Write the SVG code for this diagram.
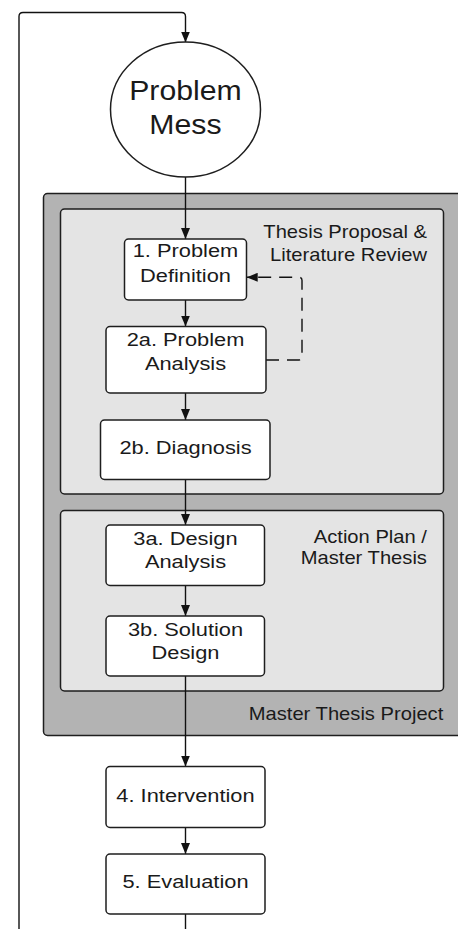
<svg xmlns="http://www.w3.org/2000/svg" width="458" height="929" viewBox="0 0 458 929">
  <style>
    .node { fill: #ffffff; stroke: #1e1e1e; stroke-width: 1.5; }
    .panel { fill: #e4e4e4; stroke: #1e1e1e; stroke-width: 1.5; }
    .frame { fill: #b3b3b3; stroke: #1e1e1e; stroke-width: 1.5; }
    .edge { fill: none; stroke: #111111; stroke-width: 1.4; }
    .dash { stroke-dasharray: 13 8; }
    text { font-family: "Liberation Sans", Arial, sans-serif; fill: #1a1a1a; }
    /* node labels: x values are divided by the 1.18 horizontal scale */
    .lbl { font-size: 18.5px; text-anchor: middle; transform: scaleX(1.18); }
    /* big circle label and captions: x values divided by 1.12 */
    .big { font-size: 27px; text-anchor: middle; transform: scaleX(1.12); }
    .cap { font-size: 18px; text-anchor: end; transform: scaleX(1.12); }
  </style>
  <defs>
    <marker id="arrow" viewBox="0 0 11 9" refX="11" refY="4.5" markerWidth="11" markerHeight="9" markerUnits="userSpaceOnUse" orient="auto">
      <path d="M0,0 L11,4.5 L0,9 z" fill="#111111"/>
    </marker>
  </defs>

  <rect width="458" height="929" fill="#ffffff"/>

  <!-- containers -->
  <g id="master-thesis-project">
    <rect class="frame" x="43.5" y="193.5" width="420" height="542" rx="4"/>
    <text class="cap" x="395.8" y="720">Master Thesis Project</text>
  </g>
  <g id="thesis-proposal">
    <rect class="panel" x="60.5" y="209" width="383" height="285" rx="4"/>
    <text class="cap" x="381.2" y="238.3">Thesis Proposal &amp;</text>
    <text class="cap" x="381.2" y="260.7">Literature Review</text>
  </g>
  <g id="action-plan">
    <rect class="panel" x="60.5" y="510.5" width="383" height="180.5" rx="4"/>
    <text class="cap" x="381.2" y="543.3">Action Plan /</text>
    <text class="cap" x="381.2" y="564.5">Master Thesis</text>
  </g>

  <!-- connectors -->
  <g id="connectors">
    <path class="edge" d="M19,935 V16.5 Q19,12.5 23,12.5 H181.5 Q185.5,12.5 185.5,16.5 V42.5" marker-end="url(#arrow)"/>
    <path class="edge" d="M185.5,177 V239" marker-end="url(#arrow)"/>
    <path class="edge" d="M185.5,300 V326.5" marker-end="url(#arrow)"/>
    <path class="edge" d="M185.5,393 V420" marker-end="url(#arrow)"/>
    <path class="edge" d="M185.5,479.5 V525" marker-end="url(#arrow)"/>
    <path class="edge" d="M185.5,585.5 V616" marker-end="url(#arrow)"/>
    <path class="edge" d="M185.5,676 V766.5" marker-end="url(#arrow)"/>
    <path class="edge" d="M185.5,827.5 V854" marker-end="url(#arrow)"/>
    <path class="edge" d="M185.5,914 V935"/>
    <path class="edge dash" d="M266,360 H299 Q302,360 302,357 V280.3 Q302,277.3 299,277.3 H246.7" marker-end="url(#arrow)"/>
  </g>

  <!-- process nodes -->
  <g id="problem-mess">
    <ellipse class="node" cx="185.5" cy="109.5" rx="75" ry="67.5"/>
    <text class="big" x="165.6" y="100.5">Problem</text>
    <text class="big" x="165.6" y="134.5">Mess</text>
  </g>
  <g id="problem-definition">
    <rect class="node" x="124.5" y="239" width="122" height="61" rx="4"/>
    <text class="lbl" x="157.2" y="257.3">1. Problem</text>
    <text class="lbl" x="157.2" y="281.7">Definition</text>
  </g>
  <g id="problem-analysis">
    <rect class="node" x="106" y="326.5" width="160" height="66.5" rx="4"/>
    <text class="lbl" x="157.2" y="346">2a. Problem</text>
    <text class="lbl" x="157.2" y="370">Analysis</text>
  </g>
  <g id="diagnosis">
    <rect class="node" x="100.5" y="420" width="169.5" height="59.5" rx="4"/>
    <text class="lbl" x="157.2" y="454.3">2b. Diagnosis</text>
  </g>
  <g id="design-analysis">
    <rect class="node" x="106" y="525" width="158.5" height="60.5" rx="4"/>
    <text class="lbl" x="157.2" y="545">3a. Design</text>
    <text class="lbl" x="157.2" y="568.3">Analysis</text>
  </g>
  <g id="solution-design">
    <rect class="node" x="106" y="616" width="158.5" height="60" rx="4"/>
    <text class="lbl" x="157.2" y="636">3b. Solution</text>
    <text class="lbl" x="157.2" y="659.3">Design</text>
  </g>
  <g id="intervention">
    <rect class="node" x="106" y="766.5" width="159" height="61" rx="4"/>
    <text class="lbl" x="157.2" y="802">4. Intervention</text>
  </g>
  <g id="evaluation">
    <rect class="node" x="106" y="854" width="159" height="60" rx="4"/>
    <text class="lbl" x="157.2" y="888.3">5. Evaluation</text>
  </g>
</svg>
